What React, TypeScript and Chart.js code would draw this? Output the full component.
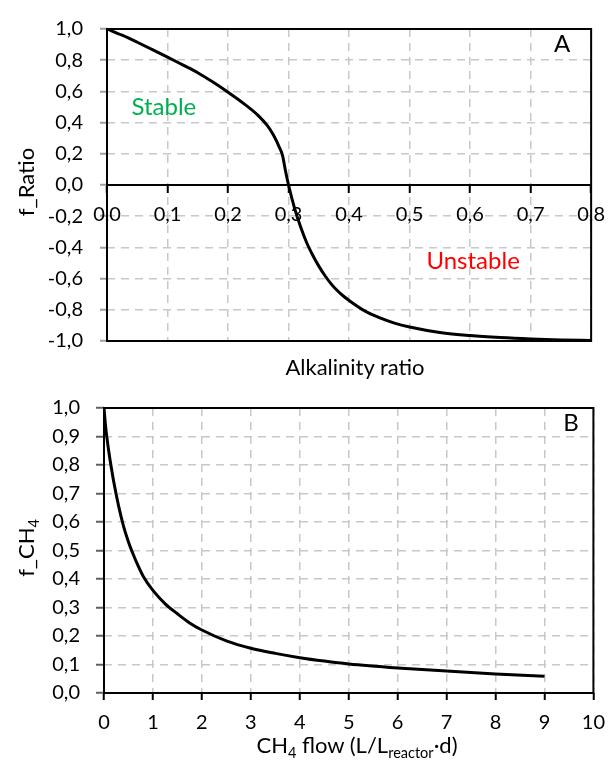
import React, { useEffect, useRef } from 'react';
import { Chart, registerables } from 'chart.js';
Chart.register(...registerables);

// ---------- Data: panel A (f_Ratio vs Alkalinity ratio) ----------
const ratioX = [0, 0.025, 0.05, 0.075, 0.1, 0.125, 0.15, 0.175, 0.2, 0.225, 0.25, 0.265, 0.275, 0.285, 0.29, 0.295, 0.3, 0.31, 0.32, 0.33, 0.34, 0.35, 0.36, 0.37, 0.38, 0.39, 0.4, 0.425, 0.45, 0.475, 0.5, 0.55, 0.6, 0.65, 0.7, 0.75, 0.8];
const ratioY = [1.0, 0.96, 0.915, 0.868, 0.82, 0.77, 0.72, 0.66, 0.595, 0.525, 0.445, 0.38, 0.32, 0.24, 0.19, 0.09, 0.0, -0.15, -0.27, -0.37, -0.45, -0.52, -0.58, -0.632, -0.675, -0.71, -0.74, -0.805, -0.85, -0.885, -0.91, -0.945, -0.965, -0.978, -0.987, -0.993, -0.997];

// ---------- Data: panel B (f_CH4 vs CH4 flow) ----------
const flowX = [0, 0.03, 0.06, 0.1, 0.15, 0.2, 0.3, 0.4, 0.5, 0.6, 0.7, 0.8, 1.0, 1.25, 1.5, 1.75, 2, 2.5, 3, 3.5, 4, 4.5, 5, 6, 7, 8, 9];
const flowY = [1.0, 0.94, 0.895, 0.845, 0.79, 0.74, 0.655, 0.585, 0.53, 0.485, 0.445, 0.41, 0.36, 0.313, 0.278, 0.246, 0.221, 0.183, 0.157, 0.139, 0.124, 0.112, 0.102, 0.088, 0.077, 0.067, 0.059];

// ---------- Axis ranges / ticks ----------
const ratioXRange = [0, 0.8, 0.1];
const ratioYRange = [-1, 1, 0.2];
const flowXRange = [0, 10, 1];
const flowYRange = [0, 1, 0.1];

// ---------- Text annotations (data coordinates) ----------
const notesA = [
  { text: 'A', x: 0.752, y: 0.9, color: '#000000' },
  { text: 'Stable', x: 0.094, y: 0.5, color: '#00b050' },
  { text: 'Unstable', x: 0.605, y: -0.49, color: '#ff0000' },
];
const notesB = [
  { text: 'B', x: 9.54, y: 0.945, color: '#000000' },
];

const FONT = 'Lato, "Open Sans", sans-serif';
const TICK_SIZE = 20;
const GRID = '#c8c8c8';

const comma = (v: number) => (Math.round(v * 10) / 10).toFixed(1).replace('.', ',').replace('-0,0', '0,0');

const framePlugin = {
  id: 'frame',
  afterDatasetsDraw(chart: any) {
    const { ctx, chartArea: a } = chart;
    ctx.save();
    ctx.strokeStyle = '#000';
    ctx.lineWidth = 2;
    ctx.strokeRect(a.left, a.top, a.right - a.left, a.bottom - a.top);
    ctx.restore();
  },
};

const notesPlugin = {
  id: 'notes',
  afterDraw(chart: any, _args: any, opts: any) {
    const { ctx } = chart;
    const xs = chart.scales.x;
    const ys = chart.scales.y;
    ctx.save();
    ctx.font = `24px ${FONT}`;
    ctx.textAlign = 'center';
    ctx.textBaseline = 'middle';
    (opts.items || []).forEach((n: any) => {
      ctx.fillStyle = n.color;
      ctx.fillText(n.text, xs.getPixelForValue(n.x), ys.getPixelForValue(n.y));
    });
    ctx.restore();
  },
};

function useChart(ref: React.RefObject<HTMLCanvasElement | null>, build: () => any) {
  useEffect(() => {
    if (!ref.current) return;
    const chart = new Chart(ref.current, build());
    return () => chart.destroy();
  }, []);
}

export default function App() {
  const refA = useRef<HTMLCanvasElement>(null);
  const refB = useRef<HTMLCanvasElement>(null);

  useChart(refA, () => ({
    type: 'line',
    data: {
      datasets: [{
        data: ratioX.map((x, i) => ({ x, y: ratioY[i] })),
        borderColor: '#000',
        borderWidth: 3,
        pointRadius: 0,
        cubicInterpolationMode: 'monotone',
        fill: false,
      }],
    },
    options: {
      animation: false,
      responsive: false,
      layout: { padding: { top: 24, right: 16, bottom: 39, left: 0 } },
      plugins: { legend: { display: false }, tooltip: { enabled: false }, notes: { items: notesA } },
      scales: {
        x: {
          type: 'linear',
          position: { y: 0 },
          min: ratioXRange[0], max: ratioXRange[1],
          ticks: { stepSize: ratioXRange[2], callback: (v: any) => comma(v), font: { family: FONT, size: TICK_SIZE }, color: '#000', padding: 11, maxRotation: 0, autoSkip: false },
          grid: { color: GRID, lineWidth: 1.5, tickColor: '#000', tickWidth: 2, tickLength: 7 },
          border: { display: true, color: '#000', width: 2, dash: [8, 6] },
        },
        y: {
          type: 'linear',
          min: ratioYRange[0], max: ratioYRange[1],
          afterFit: (s: any) => { s.width = 107; },
          ticks: { stepSize: ratioYRange[2], callback: (v: any) => comma(v), font: { family: FONT, size: TICK_SIZE }, color: '#000', padding: 17 },
          grid: { color: GRID, lineWidth: 1.5, tickColor: '#a0a0a0', tickWidth: 2, tickLength: 7 },
          border: { display: false, dash: [8, 6] },
        },
      },
    },
    plugins: [framePlugin, notesPlugin],
  }));

  useChart(refB, () => ({
    type: 'line',
    data: {
      datasets: [{
        data: flowX.map((x, i) => ({ x, y: flowY[i] })),
        borderColor: '#000',
        borderWidth: 3,
        pointRadius: 0,
        cubicInterpolationMode: 'monotone',
        fill: false,
      }],
    },
    options: {
      animation: false,
      responsive: false,
      layout: { padding: { top: 24, right: 13, bottom: 0, left: 0 } },
      plugins: { legend: { display: false }, tooltip: { enabled: false }, notes: { items: notesB } },
      scales: {
        x: {
          type: 'linear',
          position: 'bottom',
          min: flowXRange[0], max: flowXRange[1],
          afterFit: (s: any) => { s.height = 69; },
          ticks: { stepSize: flowXRange[2], callback: (v: any) => String(v), font: { family: FONT, size: TICK_SIZE }, color: '#000', padding: 11, maxRotation: 0, autoSkip: false },
          grid: { color: GRID, lineWidth: 1.5, tickColor: '#000', tickWidth: 2, tickLength: 7 },
          border: { display: false, dash: [8, 6] },
        },
        y: {
          type: 'linear',
          min: flowYRange[0], max: flowYRange[1],
          afterFit: (s: any) => { s.width = 104; },
          ticks: { stepSize: flowYRange[2], callback: (v: any) => comma(v), font: { family: FONT, size: TICK_SIZE }, color: '#000', padding: 16 },
          grid: { color: GRID, lineWidth: 1.5, tickColor: '#606060', tickWidth: 2, tickLength: 8 },
          border: { display: false, dash: [8, 6] },
        },
      },
    },
    plugins: [framePlugin, notesPlugin],
  }));

  const title: React.CSSProperties = {
    position: 'absolute', fontFamily: FONT, fontSize: 22, color: '#000', whiteSpace: 'nowrap', lineHeight: 1,
  };
  const sub: React.CSSProperties = { fontSize: '0.66em', position: 'relative', top: '0.35em' };

  return (
    <div style={{ position: 'absolute', left: 0, top: 0, width: 616, height: 762, background: '#fff', overflow: 'hidden' }}>
      <canvas ref={refA} width={616} height={380} style={{ position: 'absolute', left: 0, top: 0 }} />
      <canvas ref={refB} width={616} height={382} style={{ position: 'absolute', left: 0, top: 380 }} />
      <div style={{ ...title, left: 355, top: 367, transform: 'translate(-50%, -50%)' }}>Alkalinity ratio</div>
      <div style={{ ...title, left: 26, top: 182, transform: 'translate(-50%, -50%) rotate(-90deg)' }}>f_Ratio</div>
      <div style={{ ...title, left: 357, top: 745, transform: 'translate(-50%, -50%)' }}>
        CH<span style={sub}>4</span> flow (L/L<span style={sub}>reactor</span>·d)
      </div>
      <div style={{ ...title, left: 26, top: 548, transform: 'translate(-50%, -50%) rotate(-90deg)' }}>
        f_CH<span style={sub}>4</span>
      </div>
    </div>
  );
}
